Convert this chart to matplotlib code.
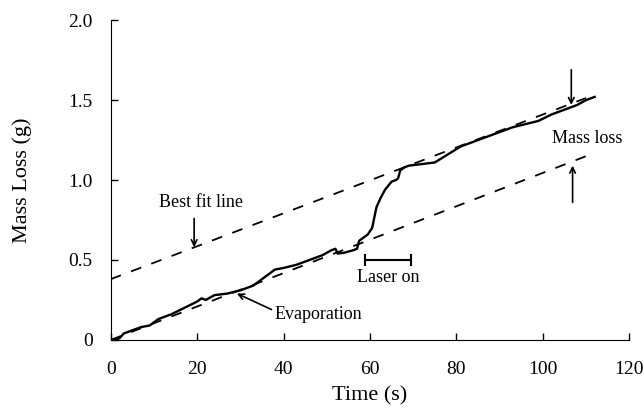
import matplotlib
matplotlib.use('Agg')
import matplotlib.pyplot as plt
import numpy as np

plt.rcParams['font.family'] = ['Liberation Serif', 'DejaVu Serif']

time_s = [0, 1, 2, 3, 5, 7, 9, 11, 14, 17, 20, 21, 22, 24, 27, 30, 33, 36, 38, 40,
          43, 46, 49, 51, 52, 52.5, 54, 56, 57, 57.5, 58.5, 59.5, 60.5, 61.5, 62.5,
          63.5, 65, 66, 66.5, 67, 68, 69, 72, 75, 78, 81, 84, 87, 90, 93, 96, 99,
          102, 105, 108, 110, 112]
mass_g = [0.0, 0.0, 0.01, 0.04, 0.06, 0.08, 0.09, 0.13, 0.16, 0.20, 0.24, 0.26,
          0.25, 0.28, 0.29, 0.31, 0.34, 0.40, 0.44, 0.45, 0.47, 0.50, 0.53, 0.56,
          0.57, 0.54, 0.545, 0.56, 0.57, 0.62, 0.64, 0.66, 0.70, 0.83, 0.89, 0.94,
          0.99, 1.00, 1.01, 1.06, 1.08, 1.09, 1.10, 1.11, 1.16, 1.21, 1.24, 1.27,
          1.30, 1.33, 1.35, 1.37, 1.41, 1.44, 1.47, 1.50, 1.52]

# best fit lines (evaporation only, and shifted by the laser mass loss)
lower_fit_x = [0, 112]
lower_fit_y = [0.0, 1.17]
upper_fit_x = [0, 110]
upper_fit_y = [0.38, 1.513]

fig = plt.figure(figsize=(6.44, 4.12), dpi=100)
ax = fig.add_axes([0.172, 0.175, 0.805, 0.776])

ax.plot(lower_fit_x, lower_fit_y, color='black', lw=1.3, dashes=(6, 6))
ax.plot(upper_fit_x, upper_fit_y, color='black', lw=1.3, dashes=(6, 6))
ax.plot(time_s, mass_g, color='black', lw=1.7)

ax.set_xlim(0, 120)
ax.set_ylim(0, 2.0)
ax.set_xticks([0, 20, 40, 60, 80, 100, 120])
ax.set_yticks([0, 0.5, 1.0, 1.5, 2.0])
ax.set_yticklabels(['0', '0.5', '1.0', '1.5', '2.0'])
ax.tick_params(direction='in', length=5, width=1, labelsize=14)
ax.tick_params(axis='x', pad=15)
ax.tick_params(axis='y', pad=13)
ax.spines['top'].set_visible(False)
ax.spines['right'].set_visible(False)
ax.set_xlabel('Time (s)', fontsize=16, labelpad=6)
ax.set_ylabel('Mass Loss (g)', fontsize=16, labelpad=26)

arrow = dict(arrowstyle='->', color='black', lw=1.2, shrinkA=0, shrinkB=0)

ax.text(21, 0.86, 'Best fit line', fontsize=13, ha='center', va='center')
ax.annotate('', xy=(19.3, 0.58), xytext=(19.3, 0.76), arrowprops=arrow)

ax.text(38, 0.16, 'Evaporation', fontsize=13, ha='left', va='center')
ax.annotate('', xy=(29.2, 0.29), xytext=(37.2, 0.19), arrowprops=arrow)

# laser on interval
ax.errorbar([64.2], [0.5], xerr=[[5.3], [5.2]], color='black', lw=1.5,
            capsize=4, capthick=1.5)
ax.text(64.2, 0.39, 'Laser on', fontsize=13, ha='center', va='center')

ax.text(110.3, 1.26, 'Mass loss', fontsize=13, ha='center', va='center')
ax.annotate('', xy=(106.6, 1.47), xytext=(106.6, 1.69), arrowprops=arrow)
ax.annotate('', xy=(106.9, 1.09), xytext=(106.9, 0.86), arrowprops=arrow)

fig.savefig('out.png', dpi=100)
